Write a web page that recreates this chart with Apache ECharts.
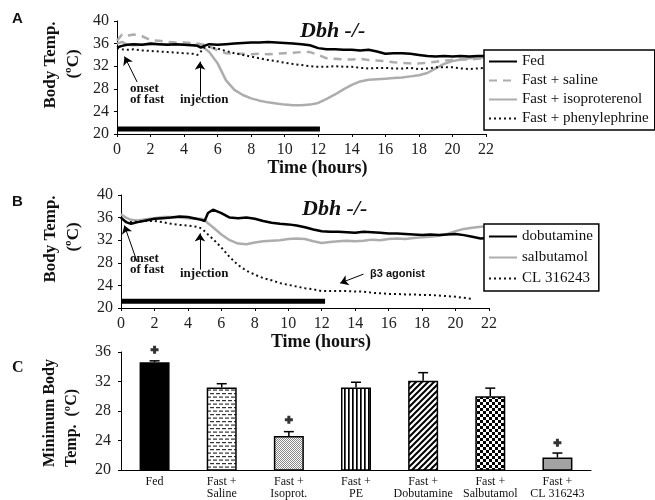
<!DOCTYPE html>
<html>
<head>
<meta charset="utf-8">
<script src="https://cdn.jsdelivr.net/npm/echarts@6/dist/echarts.min.js"></script>
<style>
html,body{margin:0;padding:0;background:#fff;}
#main{width:655px;height:500px;}
</style>
</head>
<body>
<div id="main"></div>
<script>
// panel A + B : body temperature over time (hours)
var hours = [0,0.3,0.6,1,1.5,2,2.5,3,3.5,4,4.5,4.8,5,5.2,5.5,
    6,6.5,7,7.5,8,8.5,9,9.5,10,10.5,11,11.5,
    12,12.5,13,13.5,14,14.5,15,15.5,16,16.5,17,17.5,18,18.5,19,19.5,20,20.5,21,21.5,22];

var fedA = [35.3,35.6,35.8,35.9,35.8,36.0,35.9,35.8,35.9,35.8,35.7,35.6,35.3,35.6,35.9,
    35.8,35.9,36.0,36.1,36.2,36.2,36.3,36.2,36.1,36.0,35.9,35.7,
    35.2,35.0,35.0,34.9,34.9,34.8,34.9,34.6,34.2,34.3,34.3,34.2,34.0,33.8,33.7,33.8,33.7,33.8,33.7,33.8,33.8];
var salineA = [36.5,37.6,37.4,37.6,37.3,36.6,36.5,36.3,36.2,36.2,36.1,36.0,35.9,35.8,35.5,
    34.8,34.3,34.2,34.2,34.1,34.2,34.1,34.2,34.3,34.4,34.5,34.5,
    34.0,33.4,33.3,33.2,33.2,33.3,33.1,33.0,32.9,32.7,32.6,32.5,32.5,32.6,32.8,33.0,33.1,33.2,33.2,33.3,33.4];
var isoA = [36.0,36.3,35.8,35.7,35.8,35.8,35.9,35.9,35.8,35.8,35.7,35.8,35.6,35.2,34.5,
    32.5,29.5,27.8,26.9,26.3,25.9,25.6,25.4,25.2,25.1,25.1,25.2,
    25.5,26.2,27.0,27.9,28.7,29.3,29.6,29.7,29.8,29.9,30.0,30.2,30.4,30.8,31.6,32.4,32.9,33.2,33.4,33.5,33.6];
var pheA = [35.2,35.0,34.9,35.0,34.8,34.7,34.6,34.5,34.4,34.3,34.2,34.0,34.6,35.3,35.4,
    35.1,34.7,34.3,34.0,33.7,33.4,33.1,32.9,32.6,32.4,32.2,32.0,
    31.9,31.9,32.0,31.9,31.9,31.7,31.6,31.7,31.7,31.6,31.6,31.7,31.5,31.6,31.8,31.8,31.8,31.6,31.5,31.6,31.7];

var dobB = [36.0,35.2,34.9,35.2,35.5,35.8,35.9,36.0,36.2,36.1,35.8,35.6,35.4,36.8,37.4,
    36.8,36.0,35.9,36.0,35.8,35.4,35.1,34.9,34.8,34.6,34.3,33.9,
    33.6,33.5,33.5,33.4,33.3,33.5,33.4,33.3,33.2,33.2,33.1,33.0,32.9,33.0,32.9,33.0,33.1,32.9,32.6,32.3,32.4];
var salbB = [36.6,36.0,35.6,35.5,35.7,35.9,36.1,36.1,36.0,35.9,35.8,35.8,35.6,35.0,34.3,
    33.0,32.0,31.4,31.3,31.6,31.8,31.9,32.0,32.2,32.3,32.2,31.8,
    31.5,31.7,31.8,31.9,31.8,31.9,32.1,32.0,32.2,32.3,32.2,32.4,32.5,32.6,32.8,33.1,33.6,34.0,34.2,34.4,34.5];
var clB = [35.9,35.3,35.2,35.3,35.4,35.4,35.2,34.9,34.7,34.6,34.4,34.1,33.6,33.0,32.2,
    30.7,29.0,27.6,26.6,25.9,25.3,24.9,24.4,24.1,23.8,23.5,23.3,
    23.0,23.0,23.0,23.0,22.9,22.9,22.7,22.6,22.5,22.5,22.4,22.4,22.3,22.3,22.2,22.1,22.0,21.8,21.6,null,null];

// fasting period (black bar under the curves)
var fastA = [[0,20.9],[12.1,20.9]];
var fastB = [[0,21.2],[12.2,21.2]];

var legendA = ['Fed','Fast + saline','Fast + isoproterenol','Fast + phenylephrine'];
var legendB = ['dobutamine','salbutamol','CL 316243'];

// panel C : minimum body temperature
var barCats = ['Fed','Fast +\nSaline','Fast +\nIsoprot.','Fast +\nPE','Fast +\nDobutamine','Fast +\nSalbutamol','Fast +\nCL 316243'];
var barMeans = [34.6,31.2,24.6,31.2,32.1,30.0,21.7];
var barSem = [0.2,0.5,0.6,0.7,1.1,1.1,0.6];
var starPoints = [[0,36.3],[2,26.8],[6,23.7]];

var serif = '"Liberation Serif","Times New Roman",serif';
var GRAY = '#adadad';
var DASH = [8,6];
var DOT = [2,3];

function zip(xs, ys){
    var res = [];
    for(var i=0;i<xs.length;i++){
        if(ys[i]!=null) res.push([xs[i], ys[i]]);
    }
    return res;
}

// small canvas fills for the bars
function pattern(kind){
    var c = document.createElement('canvas');
    var g;
    if(kind=='dash'){
        c.width=6;c.height=7;g=c.getContext('2d');
        g.fillStyle='#fff';g.fillRect(0,0,6,7);
        g.fillStyle='#333';
        g.fillRect(0,1,4,1.2);
        g.fillRect(3,4.5,3,1.2);g.fillRect(0,4.5,1,1.2);
    }else if(kind=='dots'){
        c.width=2;c.height=2;g=c.getContext('2d');
        g.fillStyle='#fff';g.fillRect(0,0,2,2);
        g.fillStyle='#888';g.fillRect(0,0,1,1);g.fillRect(1,1,1,1);
    }else if(kind=='vert'){
        c.width=4;c.height=4;g=c.getContext('2d');
        g.fillStyle='#fff';g.fillRect(0,0,4,4);
        g.fillStyle='#000';g.fillRect(0,0,1.7,4);
    }else if(kind=='diag'){
        c.width=6;c.height=6;g=c.getContext('2d');
        g.fillStyle='#fff';g.fillRect(0,0,6,6);
        g.strokeStyle='#000';g.lineWidth=2;
        g.beginPath();
        g.moveTo(0,6);g.lineTo(6,0);
        g.moveTo(-1,1);g.lineTo(1,-1);
        g.moveTo(5,7);g.lineTo(7,5);
        g.stroke();
    }else if(kind=='check'){
        c.width=6;c.height=6;g=c.getContext('2d');
        g.fillStyle='#fff';g.fillRect(0,0,6,6);
        g.fillStyle='#000';g.fillRect(0,0,3,3);g.fillRect(3,3,3,3);
    }
    return {image:c, repeat:'repeat'};
}

var barFills = ['#000', pattern('dash'), pattern('dots'), pattern('vert'), pattern('diag'), pattern('check'), '#a3a3a3'];

function arrowLine(from, to){
    return [{coord:from},{coord:to}];
}

function lineSeries(name, data, idx, color, width, type){
    return {
        name:name, type:'line', xAxisIndex:idx, yAxisIndex:idx,
        data:data, symbol:'none', showSymbol:false,
        lineStyle:{color:color, width:width, type:type},
        itemStyle:{color:color},
        z:3
    };
}

function fastSeries(data, idx, arrows){
    return {
        type:'line', xAxisIndex:idx, yAxisIndex:idx, data:data,
        symbol:'none', lineStyle:{color:'#000', width:5}, silent:true,
        markLine:{
            silent:true, symbol:['none','arrow'], symbolSize:8,
            label:{show:false},
            lineStyle:{color:'#000', width:1, type:'solid'},
            data:arrows
        }
    };
}

function timeXAxis(idx){
    return {
        gridIndex:idx, type:'value', min:0, max:22, interval:2,
        axisLine:{lineStyle:{color:'#000',width:1}},
        axisTick:{show:true, length:3, lineStyle:{color:'#000'}},
        axisLabel:{color:'#222', fontFamily:serif, fontSize:16, margin:8},
        splitLine:{show:false},
        name:'Time (hours)', nameLocation:'middle', nameGap:25,
        nameTextStyle:{fontFamily:serif, fontWeight:'bold', fontSize:18, color:'#111', padding:[0,0,0,32]}
    };
}

function tempYAxis(idx){
    return {
        gridIndex:idx, type:'value', min:20, max:40, interval:4,
        axisLine:{show:true, lineStyle:{color:'#000',width:1}},
        axisTick:{show:true, length:3, lineStyle:{color:'#000'}},
        axisLabel:{color:'#222', fontFamily:serif, fontSize:16, margin:8},
        splitLine:{show:false}
    };
}

// legend entries: line sample only, no symbol
function legendItems(names, types){
    var res = [];
    for(var i=0;i<names.length;i++){
        res.push({name:names[i], lineStyle:{type:types[i]}});
    }
    return res;
}

function legendBox(items, top, gap, pad){
    return {
        data:items, orient:'vertical', left:484, top:top,
        backgroundColor:'#fff', borderColor:'#000', borderWidth:1.5,
        padding:pad, itemGap:gap, itemWidth:28, itemHeight:14,
        itemStyle:{color:'rgba(0,0,0,0)', borderColor:'rgba(0,0,0,0)', borderWidth:0},
        textStyle:{fontFamily:serif, fontSize:15, color:'#111', lineHeight:15},
        selectedMode:false
    };
}

function txt(x, y, text, font){
    return {type:'text', x:x, y:y, z:10,
        style:{text:text, font:font, fill:'#111', align:'left', verticalAlign:'middle'}};
}
function vtxt(x, y, text, font, align){
    return {type:'text', x:x, y:y, rotation:Math.PI/2, z:10,
        style:{text:text, font:font, fill:'#111', align:align||'center', verticalAlign:'middle'}};
}

var myChart = echarts.init(document.getElementById('main'), null, {renderer:'canvas'});

var barData = [];
for(var i=0;i<barMeans.length;i++){
    barData.push({value:barMeans[i], itemStyle:{color:barFills[i]}});
}
var errData = [];
for(var i=0;i<barMeans.length;i++){
    errData.push([i, barMeans[i], barSem[i]]);
}

var option = {
    animation:false,
    grid:[
        {left:117, top:21, width:369, height:113},
        {left:121, top:195, width:368, height:113},
        {left:121, top:352, width:470, height:120}
    ],
    xAxis:[
        timeXAxis(0),
        timeXAxis(1),
        {
            gridIndex:2, type:'category', data:barCats,
            axisLine:{lineStyle:{color:'#000',width:1}},
            axisTick:{show:false},
            axisLabel:{color:'#111', fontFamily:serif, fontSize:12, lineHeight:12, margin:6, interval:0}
        }
    ],
    yAxis:[
        tempYAxis(0),
        tempYAxis(1),
        {
            gridIndex:2, type:'value', min:20, max:36, interval:4,
            axisLine:{show:true, lineStyle:{color:'#000',width:1}},
            axisTick:{show:true, length:3, lineStyle:{color:'#000'}},
            axisLabel:{color:'#222', fontFamily:serif, fontSize:16, margin:10},
            splitLine:{show:false}
        }
    ],
    legend:[
        legendBox(legendItems(legendA, ['solid', DASH, 'solid', DOT]), 50, 4, [4,6,4,4]),
        legendBox(legendItems(legendB, ['solid', 'solid', DOT]), 224, 6, [5,6,5,4])
    ],
    series:[
        fastSeries(fastA, 0, [
            arrowLine([1.2,29.2],[0.45,33.7]),
            arrowLine([4.95,26.6],[4.95,32.8])
        ]),
        lineSeries('Fast + saline', zip(hours, salineA), 0, GRAY, 2.5, DASH),
        lineSeries('Fast + isoproterenol', zip(hours, isoA), 0, GRAY, 2.5, 'solid'),
        lineSeries('Fast + phenylephrine', zip(hours, pheA), 0, '#111', 2, DOT),
        lineSeries('Fed', zip(hours, fedA), 0, '#000', 2.5, 'solid'),

        fastSeries(fastB, 1, [
            arrowLine([0.96,28.2],[0.2,34.6]),
            arrowLine([4.72,26.8],[4.72,33.2]),
            arrowLine([14.5,26.0],[13.1,24.4])
        ]),
        lineSeries('salbutamol', zip(hours, salbB), 1, GRAY, 2.5, 'solid'),
        lineSeries('CL 316243', zip(hours, clB), 1, '#111', 2, DOT),
        lineSeries('dobutamine', zip(hours, dobB), 1, '#000', 2.5, 'solid'),

        {
            type:'bar', xAxisIndex:2, yAxisIndex:2, data:barData, barWidth:30,
            itemStyle:{borderColor:'#000', borderWidth:1.5}
        },
        {
            type:'custom', xAxisIndex:2, yAxisIndex:2, data:errData, z:5,
            encode:{x:0, y:1},
            renderItem:function(params, api){
                var x = api.value(0);
                var base = api.coord([x, api.value(1)]);
                var top = api.coord([x, api.value(1)+api.value(2)]);
                var st = {stroke:'#000', lineWidth:1.5};
                return {type:'group', children:[
                    {type:'line', shape:{x1:base[0],y1:base[1],x2:top[0],y2:top[1]}, style:st},
                    {type:'line', shape:{x1:top[0]-5,y1:top[1],x2:top[0]+5,y2:top[1]}, style:st}
                ]};
            }
        },
        {
            type:'scatter', xAxisIndex:2, yAxisIndex:2, data:starPoints, clip:false,
            symbol:'path://M2.5,0h3v2.5h2.5v3h-2.5v2.5h-3v-2.5h-2.5v-3h2.5z', symbolSize:8,
            itemStyle:{color:'#000'}
        }
    ],
    graphic:[
        txt(12, 19, 'A', 'bold 15px "Liberation Sans",Arial,sans-serif'),
        txt(12, 202, 'B', 'bold 15px "Liberation Sans",Arial,sans-serif'),
        txt(12, 368, 'C', 'bold 16px ' + serif),
        txt(300, 31, 'Dbh -/-', 'italic bold 22px ' + serif),
        txt(302, 209, 'Dbh -/-', 'italic bold 22px ' + serif),
        vtxt(51, 65, 'Body Temp.', 'bold 17px ' + serif),
        vtxt(74, 64, '(ºC)', 'bold 17px ' + serif),
        vtxt(51, 239, 'Body Temp.', 'bold 17px ' + serif),
        vtxt(74, 237, '(ºC)', 'bold 17px ' + serif),
        vtxt(50, 467, 'Minimum Body', 'bold 16px ' + serif, 'left'),
        vtxt(72, 467, 'Temp.  (ºC)', 'bold 16px ' + serif, 'left'),
        txt(130, 89, 'onset', 'bold 13px ' + serif),
        txt(130, 100, 'of fast', 'bold 13px ' + serif),
        txt(180, 100, 'injection', 'bold 13px ' + serif),
        txt(130, 259, 'onset', 'bold 13px ' + serif),
        txt(130, 270, 'of fast', 'bold 13px ' + serif),
        txt(180, 274, 'injection', 'bold 13px ' + serif),
        txt(370, 274, 'β3 agonist', 'bold 11px "Liberation Sans",Arial,sans-serif')
    ]
};
myChart.setOption(option);
</script>
</body>
</html>
